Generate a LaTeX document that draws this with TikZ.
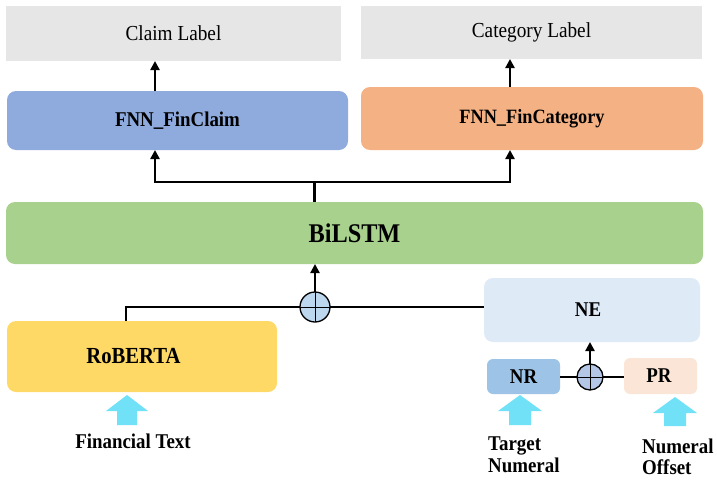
\documentclass[tikz,border=0pt]{standalone}
\usepackage{fontspec}
\setmainfont{Liberation Serif}[FakeStretch=0.9]
\usetikzlibrary{arrows.meta,calc}
\definecolor{lblgray}{HTML}{E7E6E6}
\definecolor{fnnblue}{HTML}{8FAADC}
\definecolor{fnnorange}{HTML}{F4B183}
\definecolor{lstmgreen}{HTML}{A9D18E}
\definecolor{nefill}{HTML}{DEEBF7}
\definecolor{robyellow}{HTML}{FFD966}
\definecolor{nrfill}{HTML}{9DC3E6}
\definecolor{prfill}{HTML}{FBE5D6}
\definecolor{plusfill}{HTML}{BDD7EE}
\definecolor{plusfilltwo}{HTML}{B4C7E7}
\definecolor{cyanarrow}{HTML}{70E1F6}
\tikzset{
  lblbox/.style={rectangle,fill=lblgray,inner sep=0pt,outer sep=0pt,
    font=\fontsize{21.4}{25}\selectfont},
  rbox/.style={rectangle,rounded corners=9pt,inner sep=0pt,outer sep=0pt,
    font=\fontsize{21}{25}\selectfont\bfseries},
  conn/.style={line width=2.3pt,draw=black},
  arr/.style={conn,-{Triangle[length=9pt,width=9pt]}},
  plusnode/.style={circle,draw=black,line width=1.3pt,inner sep=0pt,outer sep=0pt,
    path picture={\draw[line width=1pt] (path picture bounding box.north) -- (path picture bounding box.south);
                  \draw[line width=1pt] (path picture bounding box.west) -- (path picture bounding box.east);}},
  btxt/.style={inner sep=0pt,font=\fontsize{21}{25}\selectfont\bfseries},
  blockarrow/.style={fill=cyanarrow}
}
\begin{document}
\begin{tikzpicture}[x=1pt,y=-1pt]
\useasboundingbox (0,0) rectangle (717,479);
% label boxes
\node[lblbox,minimum width=335pt,minimum height=55pt] (claim) at (173.5,33.5) {Claim Label};
\node[lblbox,minimum width=341pt,minimum height=53pt] (category) at (531.5,32.5) {Category Label};
% FNN boxes
\node[rbox,fill=fnnblue,minimum width=341pt,minimum height=59pt] (fnnclaim) at (177.5,120.5) {FNN\_FinClaim};
\node[rbox,fill=fnnorange,minimum width=342pt,minimum height=63pt,font=\fontsize{20.3}{24}\selectfont\bfseries] (fnncat) at (532,118.5) {FNN\_FinCategory};
% BiLSTM
\node[rbox,fill=lstmgreen,minimum width=697pt,minimum height=62pt,font=\fontsize{27}{30}\selectfont\bfseries] (bilstm) at (354.5,233) {BiLSTM};
% NE
\node[rbox,fill=nefill,minimum width=216pt,minimum height=64pt] (ne) at (592,310) {};
\node[btxt] (netext) at (588,310) {NE};
% RoBERTA
\node[rbox,fill=robyellow,minimum width=270pt,minimum height=71pt] (roberta) at (142,356.5) {};
\node[btxt,font=\fontsize{23}{27}\selectfont\bfseries] (robtext) at (133.5,356) {RoBERTA};
% NR / PR
\node[rbox,rounded corners=6pt,fill=nrfill,minimum width=73pt,minimum height=35pt] (nr) at (523.5,376.5) {NR};
\node[rbox,rounded corners=6pt,fill=prfill,minimum width=73pt,minimum height=36pt] (pr) at (660.5,376) {};
\node[btxt] (prtext) at (659,376) {PR};
% plus nodes
\node[plusnode,fill=plusfill,minimum size=30pt] (p1) at (315,307) {};
\node[plusnode,fill=plusfilltwo,minimum size=26pt] (p2) at (590,377) {};
% helper coordinates
\coordinate (xl) at (155,182);
\coordinate (xr) at (510,182);
\coordinate (split) at (314.5,182);
\coordinate (rb) at (126,307);
% top arrows
\draw[arr] (fnnclaim.north -| xl) -- (claim.south -| xl);
\draw[arr] (fnncat.north -| xr) -- (category.south -| xr);
\draw[conn] (bilstm.north -| split) -- (split);
\draw[arr] (split) -- (xl) -- (fnnclaim.south -| xl);
\draw[arr] (split) -- (xr) -- (fnncat.south -| xr);
% fusion
\draw[arr] (p1.north) -- (bilstm.south -| p1);
\draw[conn] (roberta.north -| rb) -- (rb) -- (p1.west);
\draw[conn] (p1.east) -- (ne.west |- p1);
\draw[conn] (nr.east |- p2) -- (p2.west);
\draw[conn] (p2.east) -- (pr.west |- p2);
\draw[arr] (p2.north) -- (ne.south -| p2);
% cyan block arrows
\fill[blockarrow] (127,395) -- ++(21,16) -- ++(-11,0) -- ++(0,14) -- ++(-20,0) -- ++(0,-14) -- ++(-11,0) -- cycle;
\fill[blockarrow] (520,395) -- ++(22,16) -- ++(-11,0) -- ++(0,14) -- ++(-22,0) -- ++(0,-14) -- ++(-11,0) -- cycle;
\fill[blockarrow] (675,397) -- ++(22,16) -- ++(-11,0) -- ++(0,13) -- ++(-22,0) -- ++(0,-13) -- ++(-11,0) -- cycle;
% input texts
\node[btxt,anchor=base] (fintext) at (133,448) {Financial Text};
\node[btxt,anchor=base west] (target) at (488,450) {Target};
\node[btxt,anchor=base west] (numeral) at (488,472) {Numeral};
\node[btxt,anchor=base west] (numeraltwo) at (642,453) {Numeral};
\node[btxt,anchor=base west] (offset) at (642,474) {Offset};
\end{tikzpicture}
\end{document}
